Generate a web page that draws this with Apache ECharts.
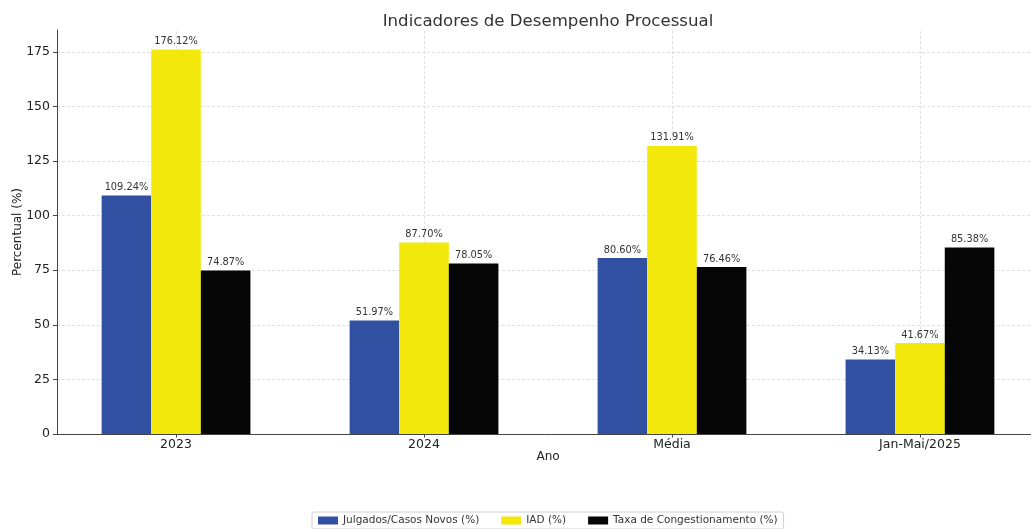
<!DOCTYPE html>
<html><head><meta charset="utf-8">
<script src="https://cdn.jsdelivr.net/npm/echarts@6/dist/echarts.min.js"></script>
<style>html,body{margin:0;padding:0;background:#fff}#c{width:1031px;height:529px}</style>
</head><body><div id="c"></div>
<script>
const categories = ['2023', '2024', 'Média', 'Jan-Mai/2025'];
const julgados = [109.24, 51.97, 80.60, 34.13];
const iad = [176.12, 87.70, 131.91, 41.67];
const taxa = [74.87, 78.05, 76.46, 85.38];
const seriesNames = ['Julgados/Casos Novos (%)', 'IAD (%)', 'Taxa de Congestionamento (%)'];
const yTicks = [0, 25, 50, 75, 100, 125, 150, 175];

const FONT = 'DejaVu Sans';
const colors = ['#3150a2', '#f2e80b', '#060606'];
const offsets = [-0.2, 0, 0.2];
const pxPerUnit = 248;
const chart = echarts.init(document.getElementById('c'), null, {renderer: 'canvas'});

function mk(i, vals) {
  return {
    name: seriesNames[i], type: 'bar',
    data: vals.map((v, k) => [k + offsets[i], v]),
    barWidth: 0.2 * pxPerUnit, barGap: '-100%',
    itemStyle: {color: colors[i]},
    label: {show: true, position: 'top', distance: 3, fontFamily: FONT, fontSize: 9.8, color: '#333',
      formatter: p => p.value[1].toFixed(2) + '%'},
    z: 3
  };
}
const gridStyle = {color: '#d8d8d8', type: [3, 2], width: 0.8};
const series = [mk(0, julgados), mk(1, iad), mk(2, taxa)];
series.push({type: 'line', data: [], silent: true, z: 0,
  markLine: {silent: true, symbol: 'none', label: {show: false}, z: 0, lineStyle: gridStyle,
    data: categories.map((c, k) => ({xAxis: k}))}});
series.push({type: 'line', data: [], silent: true, z: 0,
  markLine: {silent: true, symbol: 'none', label: {show: false}, z: 0, lineStyle: gridStyle,
    data: yTicks.filter(v => v > 0).map(v => ({yAxis: v}))}});

chart.setOption({
  animation: false,
  title: {text: 'Indicadores de Desempenho Processual', left: 543, textAlign: 'center', top: 8,
    textStyle: {fontFamily: FONT, fontSize: 16.6, fontWeight: 'normal', color: '#333'}},
  grid: {left: 57, top: 30, width: 982, height: 404, containLabel: false, outerBoundsMode: 'none'},
  legend: {data: seriesNames, left: 312, top: 512, itemWidth: 20, itemHeight: 8, itemGap: 22,
    borderColor: '#d0d0d0', borderWidth: 1, borderRadius: 2, padding: [3, 6],
    textStyle: {fontFamily: FONT, fontSize: 10.5, color: '#333'}, icon: 'rect'},
  xAxis: {type: 'value', min: -0.48, max: 3.48,
    name: 'Ano', nameLocation: 'middle', nameGap: 17, nameMoveOverlap: false,
    nameTextStyle: {fontFamily: FONT, fontSize: 12, color: '#222'},
    axisLine: {onZero: false, lineStyle: {color: '#444', width: 1}},
    axisTick: {show: true, customValues: [0, 1, 2, 3], length: 3.5, lineStyle: {color: '#444'}},
    axisLabel: {customValues: [0, 1, 2, 3], formatter: v => categories[Math.round(v)] || '',
      fontFamily: FONT, fontSize: 12.5, color: '#222', margin: 4},
    splitLine: {show: false}},
  yAxis: {type: 'value', min: 0, max: 185,
    name: 'Percentual (%)', nameLocation: 'middle', nameGap: 33, nameRotate: 90, nameMoveOverlap: false,
    nameTextStyle: {fontFamily: FONT, fontSize: 12, color: '#222'},
    axisLine: {show: true, onZero: false, lineStyle: {color: '#444', width: 1}},
    axisTick: {show: true, customValues: yTicks, length: 4, lineStyle: {color: '#444'}},
    axisLabel: {customValues: yTicks, fontFamily: FONT, fontSize: 12.5, color: '#222', margin: 7},
    splitLine: {show: false}},
  series: series
});
</script></body></html>
